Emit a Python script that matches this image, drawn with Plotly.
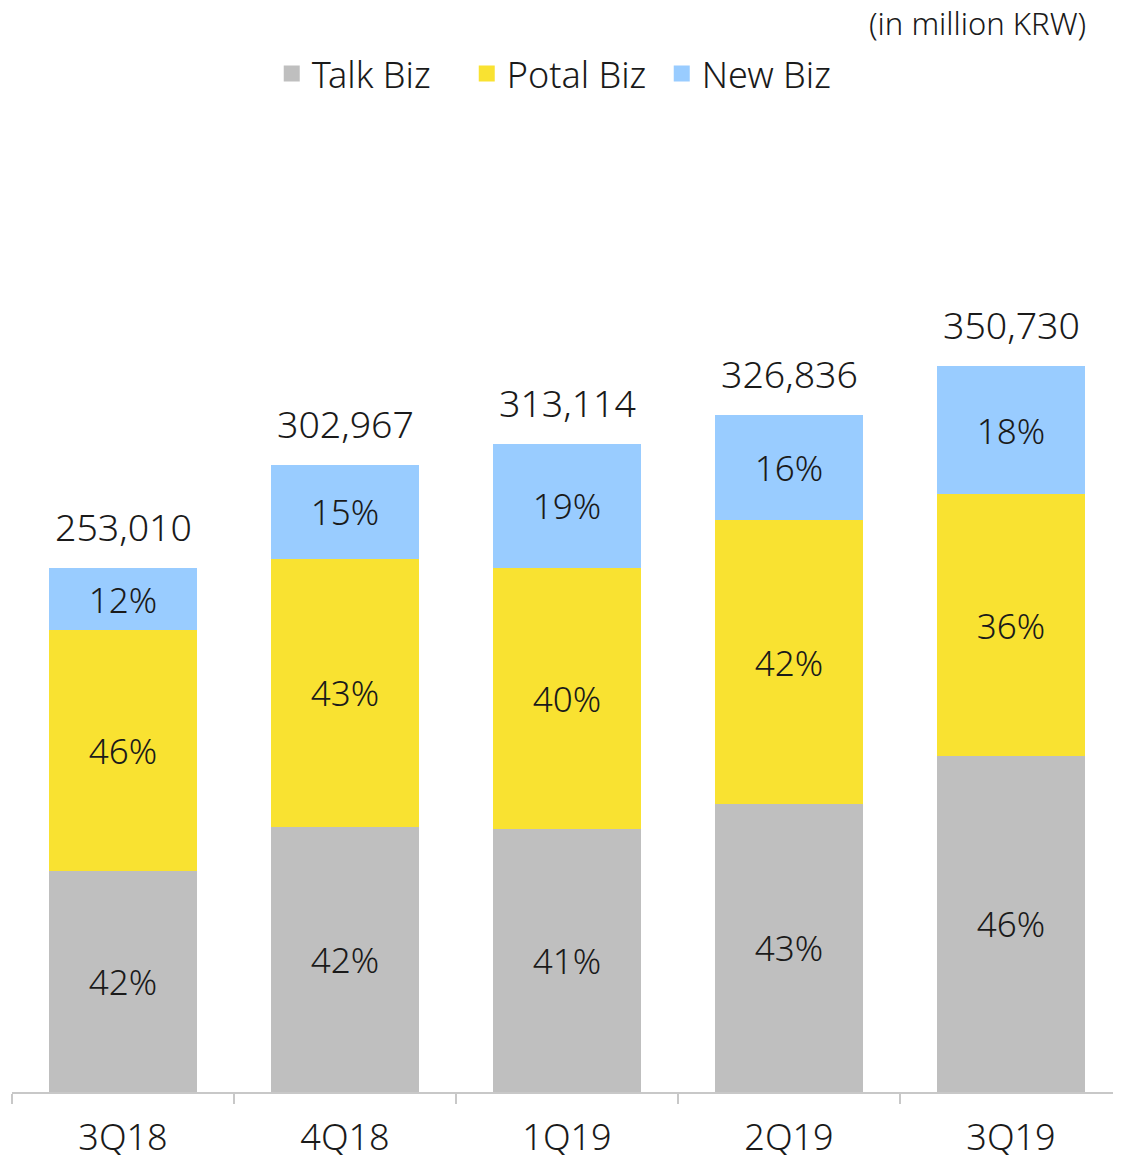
import plotly.graph_objects as go

quarters = ["3Q18", "4Q18", "1Q19", "2Q19", "3Q19"]
totals = [253010, 302967, 313114, 326836, 350730]
talk_biz = [106900, 128150, 127120, 139232, 162388]
portal_biz = [116300, 129370, 126185, 136944, 126263]
new_biz = [29810, 45447, 59809, 50660, 62079]
talk_pct = ["42%", "42%", "41%", "43%", "46%"]
portal_pct = ["46%", "43%", "40%", "42%", "36%"]
new_pct = ["12%", "15%", "19%", "16%", "18%"]

FONT = "Noto Sans"
W = 300
C_TALK = "#bfbfbf"
C_PORTAL = "#f9e231"
C_NEW = "#99ccff"
TXT = "#1a1a1a"

fig = go.Figure()
for name, vals, labels, col in [
    ("Talk Biz", talk_biz, talk_pct, C_TALK),
    ("Potal Biz", portal_biz, portal_pct, C_PORTAL),
    ("New Biz", new_biz, new_pct, C_NEW),
]:
    fig.add_trace(go.Bar(
        x=quarters, y=vals, name=name, marker=dict(color=col, line=dict(width=0)),
        text=labels, textposition="inside", insidetextanchor="middle",
        textangle=0, constraintext="none",
        textfont=dict(family=FONT, size=35, color=TXT, weight=W),
        showlegend=False, hoverinfo="skip",
    ))
    fig.add_trace(go.Scatter(
        x=[None], y=[None], mode="markers", name=name,
        marker=dict(symbol="square", size=20, color=col),
        showlegend=True,
    ))

for q, t in zip(quarters, totals):
    fig.add_annotation(x=q, y=t, text=f"{t:,}", showarrow=False,
                       yanchor="bottom", yshift=14,
                       font=dict(family=FONT, size=37.5, color=TXT, weight=W))

fig.add_annotation(xref="paper", yref="paper", x=0.969, y=1.291,
                   xanchor="right", yanchor="middle", showarrow=False,
                   text="(in million KRW)",
                   font=dict(family=FONT, size=31, color=TXT, weight=W))

fig.update_layout(
    width=1114, height=1147,
    margin=dict(l=4, r=0, t=256, b=63, autoexpand=False),
    barmode="stack", bargap=0.333,
    plot_bgcolor="white", paper_bgcolor="white",
    font=dict(family=FONT, color=TXT, weight=W),
    legend=dict(orientation="h", x=0.234, xanchor="left", y=1.23,
                yanchor="middle", traceorder="normal", entrywidth=150,
                font=dict(family=FONT, size=36, color=TXT, weight=W),
                itemwidth=30, bgcolor="rgba(0,0,0,0)"),
    xaxis=dict(showline=True, linecolor="#c8c8c8", linewidth=2,
               ticks="outside", tickson="boundaries", ticklen=10,
               tickwidth=2, tickcolor="#c8c8c8", ticklabelstandoff=13,
               tickfont=dict(family=FONT, size=36, color=TXT, weight=W),
               showgrid=False, zeroline=False),
    yaxis=dict(range=[0, 400000], visible=False, showgrid=False,
               zeroline=False),
)

fig.write_html("out.html")
